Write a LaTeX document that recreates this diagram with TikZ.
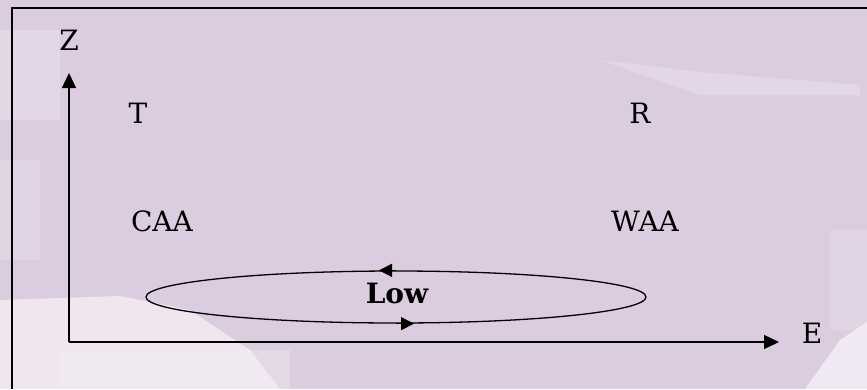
\documentclass[tikz,border=0pt]{standalone}
\usepackage{fontspec}
\setmainfont{DejaVu Serif}
\usetikzlibrary{shapes.geometric,arrows.meta}
\definecolor{bgmauve}{RGB}{219,204,223}
\definecolor{cloud}{RGB}{246,240,247}
\tikzset{
  lbl/.style={inner sep=0pt, font=\fontsize{28}{33}\selectfont},
  axis/.style={line width=1.3pt, -{Triangle[length=15pt,width=14pt]}},
  flow/.style={line width=1.3pt, -{Triangle[length=13pt,width=13pt]}},
  frame/.style={line width=2pt},
}
\begin{document}
\begin{tikzpicture}[x=1pt,y=-1pt]
\useasboundingbox (0,0) rectangle (867,389);
\fill[bgmauve] (0,0) rectangle (867,389);
% faint cloud texture
\fill[cloud,opacity=0.75] (0,300) -- (120,296) -- (190,310) -- (250,350) -- (280,389) -- (0,389) -- cycle;
\fill[cloud,opacity=0.35] (60,350) rectangle (290,389);
\fill[cloud,opacity=0.3] (0,30) rectangle (60,120);
\fill[cloud,opacity=0.25] (0,160) rectangle (40,260);
\fill[cloud,opacity=0.3] (600,60) -- (700,72) -- (860,85) -- (860,95) -- (700,95) -- cycle;
\fill[cloud,opacity=0.8] (840,340) -- (867,322) -- (867,389) -- (805,389) -- cycle;
\fill[cloud,opacity=0.25] (830,230) rectangle (867,330);
% frame (left and top)
\coordinate (fbl) at (12,389);
\coordinate (ftl) at (12,8);
\coordinate (ftr) at (867,8);
\draw[frame] (fbl) -- (ftl) -- (ftr);
% axes
\coordinate (O) at (69,342);
\coordinate (ztip) at (69,73);
\coordinate (etip) at (779,342);
\draw[axis] (O) -- (ztip);
\draw[axis] (O) -- (etip);
% labels
\node[lbl] (Z) at (69,40) {Z};
\node[lbl] (E) at (812,333) {E};
\node[lbl] (T) at (138,113) {T};
\node[lbl] (R) at (640,113) {R};
\node[lbl] (CAA) at (162,221) {CAA};
\node[lbl] (WAA) at (645,221) {WAA};
% low ellipse
\node[ellipse, draw, line width=1.3pt, minimum width=500pt, minimum height=52pt, inner sep=0pt] (low) at (396,297) {};
\node[lbl, font=\fontsize{28}{33}\selectfont\bfseries] (lowtxt) at (397,293) {Low};
\draw[flow] (low.north) -- ++(-17,0);
\draw[flow] (low.south) -- ++(18,0);
\end{tikzpicture}
\end{document}
